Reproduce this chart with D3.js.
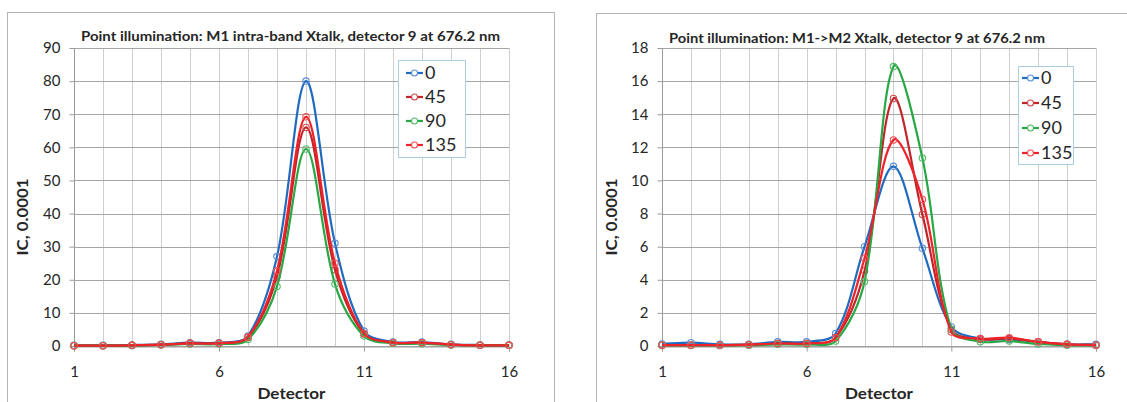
<!DOCTYPE html>
<html>
<head>
<meta charset="utf-8">
<script src="https://cdn.jsdelivr.net/npm/d3@7"></script>
<style>
  body { margin: 0; background: #fff; }
  svg { display: block; font-family: Lato, "Liberation Sans", sans-serif; }
</style>
</head>
<body>
<svg id="chart" width="1127" height="402"></svg>
<script>
// detectors on the x axis
const detectors = [1, 2, 3, 4, 5, 6, 7, 8, 9, 10, 11, 12, 13, 14, 15, 16];
const xTickLabels = [1, 6, 11, 16];
const angles = ["0", "45", "90", "135"];

// left chart: M1 intra-band Xtalk
const intra0   = [0.2, 0.2, 0.3, 0.5, 1.0, 1.0, 3.0, 27.0, 80.0, 31.0, 4.5, 1.2, 1.2, 0.5, 0.3, 0.3];
const intra45  = [0.1, 0.1, 0.2, 0.4, 0.8, 0.8, 2.6, 21.0, 66.0, 23.0, 3.6, 1.0, 1.0, 0.4, 0.2, 0.2];
const intra90  = [0.1, 0.1, 0.1, 0.3, 0.6, 0.6, 2.0, 18.0, 59.5, 18.7, 3.0, 0.8, 0.7, 0.3, 0.2, 0.2];
const intra135 = [0.1, 0.1, 0.2, 0.4, 0.8, 0.8, 2.7, 22.7, 69.2, 25.0, 3.8, 1.0, 1.0, 0.4, 0.2, 0.2];
const intraYTicks = [0, 10, 20, 30, 40, 50, 60, 70, 80, 90];

// right chart: M1->M2 Xtalk
const cross0   = [0.12, 0.2, 0.1, 0.1, 0.25, 0.25, 0.75, 6.0, 10.85, 5.9, 1.15, 0.45, 0.4, 0.25, 0.1, 0.1];
const cross45  = [0.05, 0.05, 0.05, 0.08, 0.15, 0.15, 0.5, 4.55, 14.95, 7.95, 1.0, 0.4, 0.45, 0.25, 0.1, 0.05];
const cross90  = [0.03, 0.03, 0.03, 0.05, 0.1, 0.1, 0.3, 3.9, 16.88, 11.35, 1.0, 0.26, 0.3, 0.12, 0.05, 0.03];
const cross135 = [0.05, 0.05, 0.05, 0.08, 0.15, 0.15, 0.5, 5.3, 12.45, 8.85, 0.85, 0.45, 0.5, 0.25, 0.1, 0.05];
const crossYTicks = [0, 2, 4, 6, 8, 10, 12, 14, 16, 18];

const lineColors   = ["#1f6bc0", "#c0252b", "#27a844", "#ee2228"];
const markerColors = ["#5b8fd6", "#cc4a4e", "#52bb67", "#f24d50"];

const svg = d3.select("#chart");

// spreadsheet-style smoothing: tangent from neighbours, split by the adjacent segment lengths
function smoothPath(pts) {
  const p = d3.path();
  const n = pts.length;
  const dist = (a, b) => Math.hypot(b[0] - a[0], b[1] - a[1]);
  const ctrl = (i, dir) => {
    const a = pts[Math.max(i - 1, 0)], b = pts[Math.min(i + 1, n - 1)];
    const dPrev = i > 0 ? dist(pts[i - 1], pts[i]) : 0;
    const dNext = i < n - 1 ? dist(pts[i], pts[i + 1]) : 0;
    const w = (dir > 0 ? dNext : dPrev) / ((dPrev + dNext) || 1) / 3;
    const k = (i === 0 || i === n - 1) ? 1 : 1;
    return [pts[i][0] + dir * (b[0] - a[0]) * w * k, pts[i][1] + dir * (b[1] - a[1]) * w * k];
  };
  p.moveTo(pts[0][0], pts[0][1]);
  for (let i = 0; i < n - 1; i++) {
    const c1 = ctrl(i, 1), c2 = ctrl(i + 1, -1);
    p.bezierCurveTo(c1[0], c1[1], c2[0], c2[1], pts[i + 1][0], pts[i + 1][1]);
  }
  return p.toString();
}

function drawChart(cfg) {
  const g = svg.append("g");

  // outer chart frame
  g.append("rect")
    .attr("x", cfg.frame[0] + 0.5).attr("y", cfg.frame[1] + 0.5)
    .attr("width", cfg.frame[2]).attr("height", 420)
    .attr("fill", "#fff").attr("stroke", "#b4b4b4");

  const x = d3.scaleLinear().domain([1, 16]).range([cfg.left, cfg.right]);
  const y = d3.scaleLinear().domain([0, cfg.yMax]).range([346, 48]);

  // vertical gridlines at every detector
  g.append("g").selectAll("line").data(detectors).join("line")
    .attr("x1", d => Math.round(x(d)) + 0.5).attr("x2", d => Math.round(x(d)) + 0.5)
    .attr("y1", y(cfg.yMax)).attr("y2", y(0))
    .attr("stroke", d => d === 1 ? "#9a9a9a" : "#cfcfcf");

  // horizontal gridlines
  g.append("g").selectAll("line").data(cfg.yTicks).join("line")
    .attr("x1", x(1)).attr("x2", x(16))
    .attr("y1", d => Math.round(y(d)) + 0.5).attr("y2", d => Math.round(y(d)) + 0.5)
    .attr("stroke", "#a6a6a6");

  // y axis
  const yAxis = g.append("g")
    .attr("transform", `translate(${Math.round(x(1)) + 0.5},0)`)
    .call(d3.axisLeft(y).tickValues(cfg.yTicks).tickSize(5).tickPadding(9));
  yAxis.select(".domain").remove();
  yAxis.selectAll(".tick line").attr("stroke", "#9a9a9a");
  yAxis.selectAll(".tick text")
    .attr("font-family", "Lato").attr("font-size", 15).attr("fill", "#262626");

  // x axis
  const xAxis = g.append("g")
    .attr("transform", `translate(0,${Math.round(y(0)) + 0.5})`)
    .call(d3.axisBottom(x).tickValues(xTickLabels).tickSize(5).tickPadding(15));
  xAxis.select(".domain").attr("stroke", "#9a9a9a");
  xAxis.selectAll(".tick line").attr("stroke", "#9a9a9a");
  xAxis.selectAll(".tick text")
    .attr("font-family", "Lato").attr("font-size", 15).attr("fill", "#262626");

  // series
  cfg.series.forEach((vals, s) => {
    const pts = vals.map((v, i) => [x(detectors[i]), y(v)]);
    g.append("path")
      .attr("d", smoothPath(pts))
      .attr("fill", "none")
      .attr("stroke", lineColors[s])
      .attr("stroke-width", 2.2);
    g.append("g").selectAll("circle").data(vals).join("circle")
      .attr("cx", (d, i) => x(detectors[i]))
      .attr("cy", d => y(d))
      .attr("r", 3.2)
      .attr("fill", "none")
      .attr("stroke", markerColors[s])
      .attr("stroke-width", 1.1);
  });

  // title
  g.append("text")
    .attr("x", cfg.titleX).attr("y", cfg.titleY)
    .attr("text-anchor", "middle")
    .attr("font-weight", "bold").attr("font-size", 13.5).attr("fill", "#262626")
    .attr("textLength", cfg.titleLen).attr("lengthAdjust", "spacingAndGlyphs")
    .text(cfg.title);

  // axis titles
  g.append("text")
    .attr("transform", `translate(${cfg.yLabelX},217) rotate(-90)`)
    .attr("text-anchor", "middle").attr("dy", "0.35em")
    .attr("font-weight", "bold").attr("font-size", 16).attr("fill", "#262626")
    .attr("textLength", 77).attr("lengthAdjust", "spacingAndGlyphs")
    .text("IC, 0.0001");

  g.append("text")
    .attr("x", (x(1) + x(16)) / 2).attr("y", 399)
    .attr("text-anchor", "middle")
    .attr("font-weight", "bold").attr("font-size", 16).attr("fill", "#262626")
    .attr("textLength", 68).attr("lengthAdjust", "spacingAndGlyphs")
    .text("Detector");

  // legend
  const lg = cfg.legend;
  g.append("rect")
    .attr("x", lg.x + 0.5).attr("y", lg.y + 0.5)
    .attr("width", lg.w).attr("height", lg.h)
    .attr("fill", "#fff").attr("stroke", "#a9cde3");
  angles.forEach((name, s) => {
    const ry = lg.rows[s];
    g.append("line")
      .attr("x1", lg.lineX).attr("x2", lg.lineX + 17)
      .attr("y1", ry).attr("y2", ry)
      .attr("stroke", lineColors[s]).attr("stroke-width", 2.2);
    g.append("circle")
      .attr("cx", lg.lineX + 8.5).attr("cy", ry).attr("r", 3)
      .attr("fill", "#fff").attr("stroke", markerColors[s]).attr("stroke-width", 1.1);
    g.append("text")
      .attr("x", lg.lineX + 19).attr("y", ry).attr("dy", "0.36em")
      .attr("font-family", "Lato").attr("font-size", 18).attr("fill", "#262626")
      .text(name);
  });
}

drawChart({
  frame: [7, 12, 547],
  left: 74, right: 509,
  yMax: 90, yTicks: intraYTicks,
  series: [intra0, intra45, intra90, intra135],
  title: "Point illumination: M1 intra-band Xtalk, detector 9 at 676.2 nm",
  titleX: 290.5, titleY: 41, titleLen: 419,
  yLabelX: 22,
  legend: { x: 398, y: 60, w: 67, h: 97, rows: [73, 97, 121, 145], lineX: 406 }
});

drawChart({
  frame: [596, 13, 600],
  left: 662, right: 1096,
  yMax: 18, yTicks: crossYTicks,
  series: [cross0, cross45, cross90, cross135],
  title: "Point illumination: M1->M2 Xtalk, detector 9 at 676.2 nm",
  titleX: 857, titleY: 42.5, titleLen: 376,
  yLabelX: 611,
  legend: { x: 1018, y: 66, w: 55, h: 98, rows: [78, 103, 128, 153], lineX: 1022 }
});
</script>
</body>
</html>
